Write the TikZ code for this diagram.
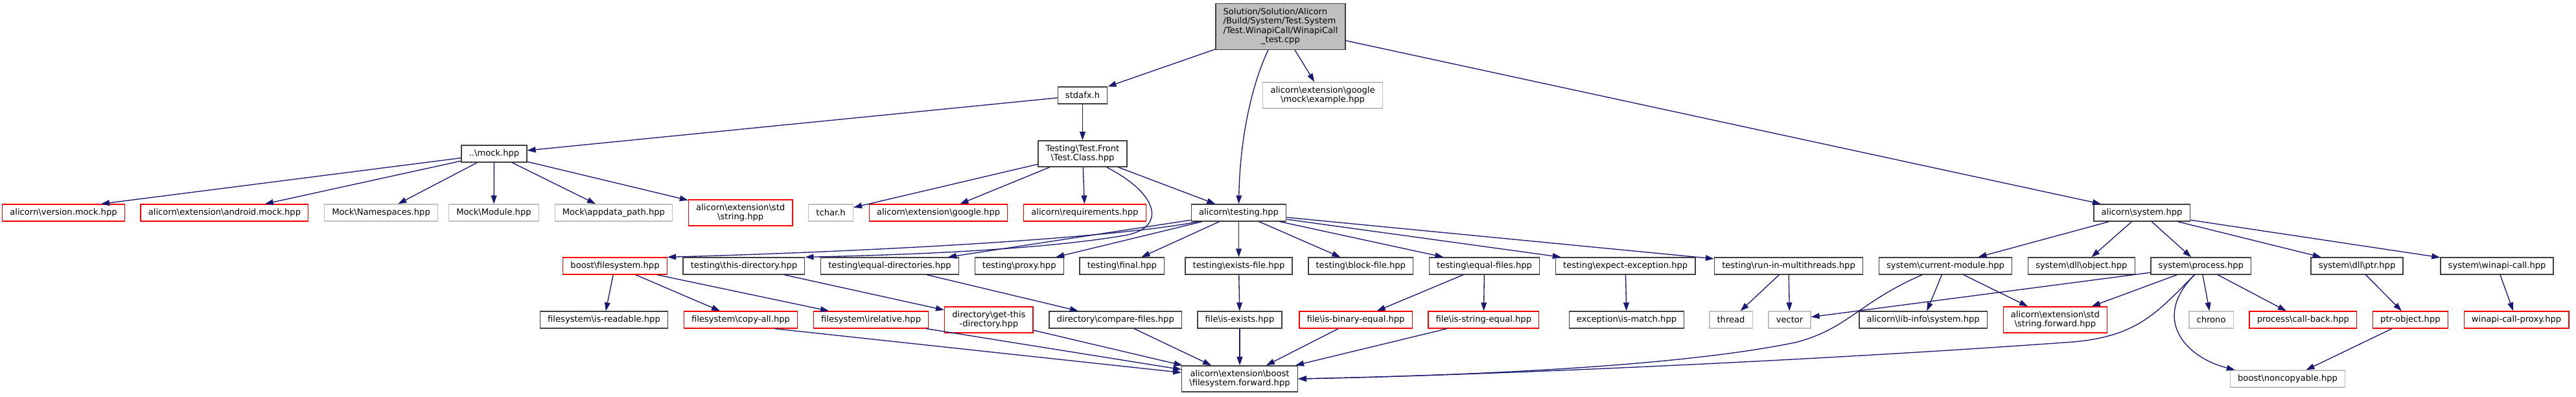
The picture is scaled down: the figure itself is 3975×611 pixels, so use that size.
\documentclass[tikz,border=0pt]{standalone}
\usepackage{fontspec}
\setmainfont{DejaVu Sans}
\usepackage{tikz}
\usetikzlibrary{positioning,arrows.meta}
\definecolor{graphEdge}{HTML}{191970}
\definecolor{graphInk}{HTML}{404040}
\definecolor{graphGrey}{HTML}{BFBFBF}
\definecolor{graphRed}{HTML}{FF0000}
\newcommand{\bsl}{\textbackslash}
\tikzset{
  filebox/.style={draw=graphInk,fill=white,line width=0.67pt,align=center,
    inner xsep=5.85pt,inner ysep=3.3pt,minimum height=13pt,
    font=\fontsize{6.55pt}{7.2pt}\selectfont},
  truncbox/.style={filebox,draw=graphRed},
  sysbox/.style={filebox,draw=graphGrey},
  rootbox/.style={filebox,fill=graphGrey},
  incarrow/.style={-{Triangle[length=6.5pt,width=4.4pt]},line width=0.67pt,draw=graphEdge}
}

\begin{document}
\begin{tikzpicture}[x=0.5pt,y=-0.5pt,node distance=11.75pt]
    \useasboundingbox (0,0) rectangle (3975,611);
    \node[rootbox] (root) at (1976,41) {\begin{tabular}{@{}l@{}}Solution/Solution/Alicorn\\/Build/System/Test.System\\/Test.WinapiCall/WinapiCall\\\multicolumn{1}{@{}c@{}}{\_test.cpp}\end{tabular}};
    \node[filebox] (stdafx) at (1670.5,147) {stdafx.h};
    \node[sysbox] (mockexample) at (2041,147) {alicorn\bsl extension\bsl google\\\bsl mock\bsl example.hpp};
    \node[filebox] (mockhpp) at (762.5,237) {..\bsl mock.hpp};
    \node[filebox] (testclass) at (1670.5,237) {Testing\bsl Test.Front\\\bsl Test.Class.hpp};

    \node[truncbox] (versionmock) at (98,328) {alicorn\bsl version.mock.hpp};
    \node[truncbox,right=of versionmock] (androidmock) {alicorn\bsl extension\bsl android.mock.hpp};
    \node[sysbox,right=of androidmock] (namespaces) {Mock\bsl Namespaces.hpp};
    \node[sysbox] (module) at (762,328) {Mock\bsl Module.hpp};
    \node[sysbox,right=of module] (appdata) {Mock\bsl appdata\_path.hpp};
    \node[truncbox,right=of appdata] (stdstring) {alicorn\bsl extension\bsl std\\\bsl string.hpp};
    \node[sysbox,right=of stdstring] (tchar) {tchar.h};
    \node[truncbox,right=of tchar] (google) {alicorn\bsl extension\bsl google.hpp};
    \node[truncbox,right=of google] (requirements) {alicorn\bsl requirements.hpp};
    \node[filebox] (testing) at (1911.5,328) {alicorn\bsl testing.hpp};
    \node[filebox] (system) at (3305,328) {alicorn\bsl system.hpp};

    \node[truncbox] (bfs) at (949,410) {boost\bsl filesystem.hpp};
    \node[filebox,right=of bfs] (thisdir) {testing\bsl this-directory.hpp};
    \node[filebox,right=of thisdir] (eqdirs) {testing\bsl equal-directories.hpp};
    \node[filebox,right=of eqdirs] (proxy) {testing\bsl proxy.hpp};
    \node[filebox,right=of proxy] (final) {testing\bsl final.hpp};
    \node[filebox] (existsfile) at (1911.5,410) {testing\bsl exists-file.hpp};
    \node[filebox,right=of existsfile] (blockfile) {testing\bsl block-file.hpp};
    \node[filebox,right=of blockfile] (eqfiles) {testing\bsl equal-files.hpp};
    \node[filebox,right=of eqfiles] (expectexc) {testing\bsl expect-exception.hpp};
    \node[filebox] (multithreads) at (2760,410) {testing\bsl run-in-multithreads.hpp};
    \node[filebox,right=of multithreads] (curmodule) {system\bsl current-module.hpp};
    \node[filebox,right=of curmodule] (dllobject) {system\bsl dll\bsl object.hpp};
    \node[filebox,right=of dllobject] (process) {system\bsl process.hpp};
    \node[filebox] (dllptr) at (3637,410) {system\bsl dll\bsl ptr.hpp};
    \node[filebox] (winapicall) at (3853,410) {system\bsl winapi-call.hpp};

    \node[filebox] (readable) at (932,493) {filesystem\bsl is-readable.hpp};
    \node[truncbox,right=of readable] (copyall) {filesystem\bsl copy-all.hpp};
    \node[truncbox,right=of copyall] (relative) {filesystem\bsl irelative.hpp};
    \node[truncbox,right=of relative] (getthisdir) {directory\bsl get-this\\-directory.hpp};
    \node[filebox,right=of getthisdir] (comparefiles) {directory\bsl compare-files.hpp};
    \node[filebox] (isexists) at (1913,493) {file\bsl is-exists.hpp};
    \node[truncbox] (binequal) at (2092,493) {file\bsl is-binary-equal.hpp};
    \node[truncbox,right=of binequal] (strequal) {file\bsl is-string-equal.hpp};
    \node[filebox] (ismatch) at (2510,493) {exception\bsl is-match.hpp};
    \node[sysbox] (thread) at (2671,493) {thread};
    \node[sysbox,right=of thread] (vector) {vector};
    \node[filebox] (libinfo) at (2967.6,493) {alicorn\bsl lib-info\bsl system.hpp};
    \node[truncbox,right=of libinfo] (strforward) {alicorn\bsl extension\bsl std\\\bsl string.forward.hpp};
    \node[sysbox] (chrono) at (3412,493) {chrono};
    \node[truncbox,right=of chrono] (callback) {process\bsl call-back.hpp};
    \node[truncbox,right=of callback] (ptrobject) {ptr-object.hpp};
    \node[truncbox,right=of ptrobject] (proxycall) {winapi-call-proxy.hpp};

    \node[filebox] (forward) at (1913,584) {alicorn\bsl extension\bsl boost\\\bsl filesystem.forward.hpp};
    \node[sysbox] (noncopyable) at (3530,584) {boost\bsl noncopyable.hpp};

    \draw[incarrow] (root) -- (stdafx);
    \draw[incarrow] ([xshift=-9.5pt]root.south) .. controls +(-22,45) and +(2,-110) .. (testing.north);
    \draw[incarrow] (root) -- (mockexample);
    \draw[incarrow] (root) -- (system);
    \draw[incarrow] (stdafx) -- (mockhpp);
    \draw[incarrow] (stdafx) -- (testclass);
    \draw[incarrow] (mockhpp) -- ([xshift=29pt]versionmock.north);
    \draw[incarrow] (mockhpp) -- (androidmock);
    \draw[incarrow] (mockhpp) -- (namespaces);
    \draw[incarrow] (mockhpp) -- (module);
    \draw[incarrow] (mockhpp) -- (appdata);
    \draw[incarrow] (mockhpp) -- (stdstring);
    \draw[incarrow] (testclass) -- (tchar);
    \draw[incarrow] (testclass) -- (google);
    \draw[incarrow] (testclass) -- (requirements);
    \draw[incarrow] (testclass) -- (testing);
    \draw[incarrow] ([xshift=-16pt]testclass.south east) .. controls (1790,300) and (1800,352) .. (1735,363)
      .. controls (1605,385) and (1400,393) .. (thisdir.north east);
    \draw[incarrow] ([xshift=6pt]testing.south west) .. controls (1700,370) and (1300,389) .. (bfs.north east);
    \draw[incarrow] (testing) -- (eqdirs);
    \draw[incarrow] (testing) -- (proxy);
    \draw[incarrow] (testing) -- (final);
    \draw[incarrow] (testing) -- (existsfile);
    \draw[incarrow] (testing) -- (blockfile);
    \draw[incarrow] (testing) -- (eqfiles);
    \draw[incarrow] (testing) -- (expectexc);
    \draw[incarrow] (testing) -- (multithreads);
    \draw[incarrow] (system) -- (curmodule);
    \draw[incarrow] (system) -- (dllobject);
    \draw[incarrow] (system) -- (process);
    \draw[incarrow] (system) -- (dllptr);
    \draw[incarrow] (system) -- (winapicall);
    \draw[incarrow] (bfs) -- (readable);
    \draw[incarrow] (bfs) -- (copyall);
    \draw[incarrow] (bfs) -- (relative);
    \draw[incarrow] (thisdir) -- (getthisdir);
    \draw[incarrow] (eqdirs) -- (comparefiles);
    \draw[incarrow] (existsfile) -- (isexists);
    \draw[incarrow] (eqfiles) -- (binequal);
    \draw[incarrow] (eqfiles) -- (strequal);
    \draw[incarrow] (expectexc) -- (ismatch);
    \draw[incarrow] (multithreads) -- (thread);
    \draw[incarrow] (multithreads) -- (vector);
    \draw[incarrow] (curmodule) -- (libinfo);
    \draw[incarrow] (curmodule) -- (strforward);
    \draw[incarrow] ([xshift=-18pt]curmodule.south) .. controls (2870,465) and (2850,508) .. (2770,528)
      .. controls (2600,563) and (2300,578) .. (forward.east);
    \draw[incarrow] (process) -- (vector);
    \draw[incarrow] (process) -- (strforward);
    \draw[incarrow] (process) -- (chrono);
    \draw[incarrow] (process) -- (callback);
    \draw[incarrow] ([xshift=-5pt]process.south) .. controls (3330,480) and (3300,518) .. (3200,527)
      .. controls (2800,556) and (2300,578) .. (forward.east);
    \draw[incarrow] ([xshift=-5pt]process.south) .. controls (3320,490) and (3370,550) .. ([xshift=4pt]noncopyable.north west);
    \draw[incarrow] (dllptr) -- (ptrobject);
    \draw[incarrow] (winapicall) -- (proxycall);
    \draw[incarrow] (ptrobject) -- (noncopyable);
    \draw[incarrow] ([xshift=-18pt]copyall.south east) -- (forward);
    \draw[incarrow] (relative) -- (forward);
    \draw[incarrow] (getthisdir) -- (forward);
    \draw[incarrow] (comparefiles) -- (forward);
    \draw[incarrow] (isexists) -- (forward);
    \draw[incarrow] (binequal) -- (forward);
    \draw[incarrow] (strequal) -- (forward);
\end{tikzpicture}
\end{document}
